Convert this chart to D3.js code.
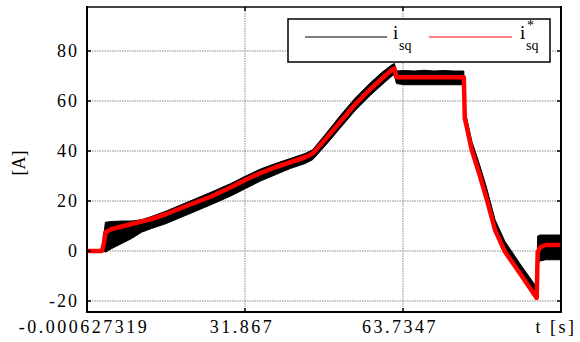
<!DOCTYPE html>
<html>
<head>
<meta charset="utf-8">
<script src="https://cdn.jsdelivr.net/npm/d3@7"></script>
<style>
  body { margin: 0; background: #fff; }
  svg text { font-family: "Liberation Serif", "Times New Roman", Times, serif; fill: #000; }
</style>
</head>
<body>
<div id="chart"></div>
<script>
// time [s] of the points
const time = [0, 3.0, 3.4, 3.7, 5, 7, 9, 11, 13, 16, 19, 22, 25, 29, 32, 35, 38, 41, 44, 45.5,
  48, 51, 54, 57, 59.5, 61.5, 62.0, 62.4, 64, 66, 68, 70, 72, 74, 76.0, 76.2, 76.6, 77.6, 79.1,
  80.5, 82.3, 84.3, 87.3, 90.7, 90.9, 91.4, 92.5, 94, 95.6];
// reference current i*sq [A]
const iRef = [0, 0, 3, 7.5, 8.8, 9.8, 10.8, 11.8, 12.8, 14.8, 17.2, 19.5, 21.8, 25.5, 28.5, 31.2, 33.5, 35.5, 37.5, 39,
  44.5, 51.5, 58.5, 64.5, 69, 72.5, 73, 69.5, 69.5, 69.5, 69.5, 69.5, 69.5, 69.5, 69.5, 53, 49.6, 40.4, 31,
  21.6, 8.4, -0.3, -8.9, -18.8, -0.5, 1.5, 2.4, 2.4, 2.4];
// measured current isq, ripple band (upper / lower envelope) [A]
const iHi = [0.3, 0.3, 6, 11.5, 11.8, 12, 12, 12.5, 13.8, 16, 18.5, 21, 23.5, 27, 30, 32.8, 35, 37, 39, 40.5,
  46.5, 54, 61, 67, 71.5, 74.5, 75, 72, 72.2, 72, 72.3, 72, 72.2, 72, 72, 56, 53, 44, 35,
  26, 12.5, 3.8, -5, -14.5, 6, 6.4, 6.4, 6.4, 6.4];
const iLo = [-0.3, -0.3, 0, -0.5, 1, 3, 5, 7.5, 9, 11, 13.5, 16, 18.5, 22, 25, 28, 30.5, 33, 35, 36.5,
  42, 49, 56, 62, 66.5, 70, 70.5, 67, 66.5, 66.5, 66.5, 66.5, 66.5, 66.5, 66.5, 52, 48, 39, 30,
  20.5, 8, -0.5, -9, -18.5, -4.4, -4, -3.5, -3.5, -3.5];

const xTicks = [-0.000627319, 31.867, 63.7347, 95.6024];
const xTickLabels = ['-0.000627319', '31.867', '63.7347', 't [s]'];
const yTicks = [-20, 0, 20, 40, 60, 80];

const width = 580, height = 342;
const margin = {top: 7, right: 19, bottom: 30, left: 87};
const serif = '"Liberation Serif", "Times New Roman", Times, serif';

const svg = d3.select('#chart')
  .append('svg')
  .attr('width', width)
  .attr('height', height)
  .attr('font-family', serif);

const x = d3.scaleLinear()
  .domain([xTicks[0], xTicks[3]])
  .range([margin.left, width - margin.right]);

const y = d3.scaleLinear()
  .domain([-24.4, 97.6])
  .range([height - margin.bottom, margin.top]);

// grid
svg.append('g')
  .selectAll('line')
  .data(yTicks)
  .enter().append('line')
  .attr('x1', x.range()[0]).attr('x2', x.range()[1])
  .attr('y1', d => y(d)).attr('y2', d => y(d))
  .attr('stroke', '#888').attr('stroke-width', 1).attr('stroke-dasharray', '1.5,1');

svg.append('g')
  .selectAll('line')
  .data(xTicks.slice(1, 3))
  .enter().append('line')
  .attr('x1', d => x(d)).attr('x2', d => x(d))
  .attr('y1', y.range()[0]).attr('y2', y.range()[1])
  .attr('stroke', '#888').attr('stroke-width', 1).attr('stroke-dasharray', '1.5,1');

// isq ripple band
const band = d3.area()
  .x((d, i) => x(time[i]))
  .y0((d, i) => y(iLo[i]))
  .y1((d, i) => y(iHi[i]));

svg.append('path')
  .datum(time)
  .attr('d', band)
  .attr('fill', '#000')
  .attr('stroke', '#000')
  .attr('stroke-width', 1);

// reference
const line = d3.line()
  .x((d, i) => x(time[i]))
  .y(d => y(d));

svg.append('path')
  .datum(iRef)
  .attr('d', line)
  .attr('fill', 'none')
  .attr('stroke', '#ff0000')
  .attr('stroke-width', 4.5)
  .attr('stroke-linejoin', 'round');

// frame
const [x0, x1] = x.range();
const [yb, yt] = y.range();
svg.append('line').attr('x1', x0).attr('x2', x1).attr('y1', yt).attr('y2', yt)
  .attr('stroke', '#444').attr('stroke-width', 2);
svg.append('line').attr('x1', x0).attr('x2', x1).attr('y1', yb).attr('y2', yb)
  .attr('stroke', '#000').attr('stroke-width', 2);
svg.append('line').attr('x1', x0).attr('x2', x0).attr('y1', yt - 1).attr('y2', yb + 1)
  .attr('stroke', '#000').attr('stroke-width', 2);
svg.append('line').attr('x1', x1).attr('x2', x1).attr('y1', yt - 1).attr('y2', yb + 1)
  .attr('stroke', '#000').attr('stroke-width', 2);

// inward ticks
const tickG = svg.append('g').attr('stroke', '#000').attr('stroke-width', 1.5);
yTicks.forEach(v => {
  tickG.append('line').attr('x1', x0).attr('x2', x0 + 4).attr('y1', y(v)).attr('y2', y(v));
  tickG.append('line').attr('x1', x1).attr('x2', x1 - 4).attr('y1', y(v)).attr('y2', y(v));
});
xTicks.slice(1, 3).forEach(v => {
  tickG.append('line').attr('x1', x(v)).attr('x2', x(v)).attr('y1', yb).attr('y2', yb - 4);
  tickG.append('line').attr('x1', x(v)).attr('x2', x(v)).attr('y1', yt).attr('y2', yt + 4);
});

// tick labels
svg.append('g')
  .selectAll('text')
  .data(yTicks)
  .enter().append('text')
  .attr('x', x0 - 8)
  .attr('y', d => y(d))
  .attr('dy', '0.35em')
  .attr('text-anchor', 'end')
  .attr('font-size', 18)
  .attr('letter-spacing', 2)
  .text(d => d);

svg.append('g')
  .selectAll('text')
  .data(xTicks)
  .enter().append('text')
  .attr('x', (d, i) => i === 3 ? x(d) - 5 : x(d) - 3)
  .attr('y', 333)
  .attr('text-anchor', 'middle')
  .attr('font-size', 18)
  .attr('letter-spacing', 2.5)
  .text((d, i) => xTickLabels[i]);

svg.append('text')
  .attr('transform', 'translate(25, 163) rotate(-90)')
  .attr('text-anchor', 'middle')
  .attr('font-size', 18)
  .text('[A]');

// legend
const lg = svg.append('g');
lg.append('rect')
  .attr('x', 288).attr('y', 19).attr('width', 262).attr('height', 43)
  .attr('fill', '#fff').attr('stroke', '#000').attr('stroke-width', 1.5);
lg.append('line').attr('x1', 305).attr('x2', 387).attr('y1', 37).attr('y2', 37)
  .attr('stroke', '#000').attr('stroke-width', 1);
lg.append('line').attr('x1', 429).attr('x2', 512).attr('y1', 37).attr('y2', 37)
  .attr('stroke', '#ff0000').attr('stroke-width', 1);

lg.append('text').attr('x', 393).attr('y', 39).attr('font-size', 19).text('i');
lg.append('text').attr('x', 399).attr('y', 50).attr('font-size', 14).text('sq');
lg.append('text').attr('x', 520).attr('y', 39).attr('font-size', 19).text('i');
lg.append('text').attr('x', 527).attr('y', 30).attr('font-size', 14).text('*');
lg.append('text').attr('x', 526).attr('y', 50).attr('font-size', 14).text('sq');
</script>
</body>
</html>
